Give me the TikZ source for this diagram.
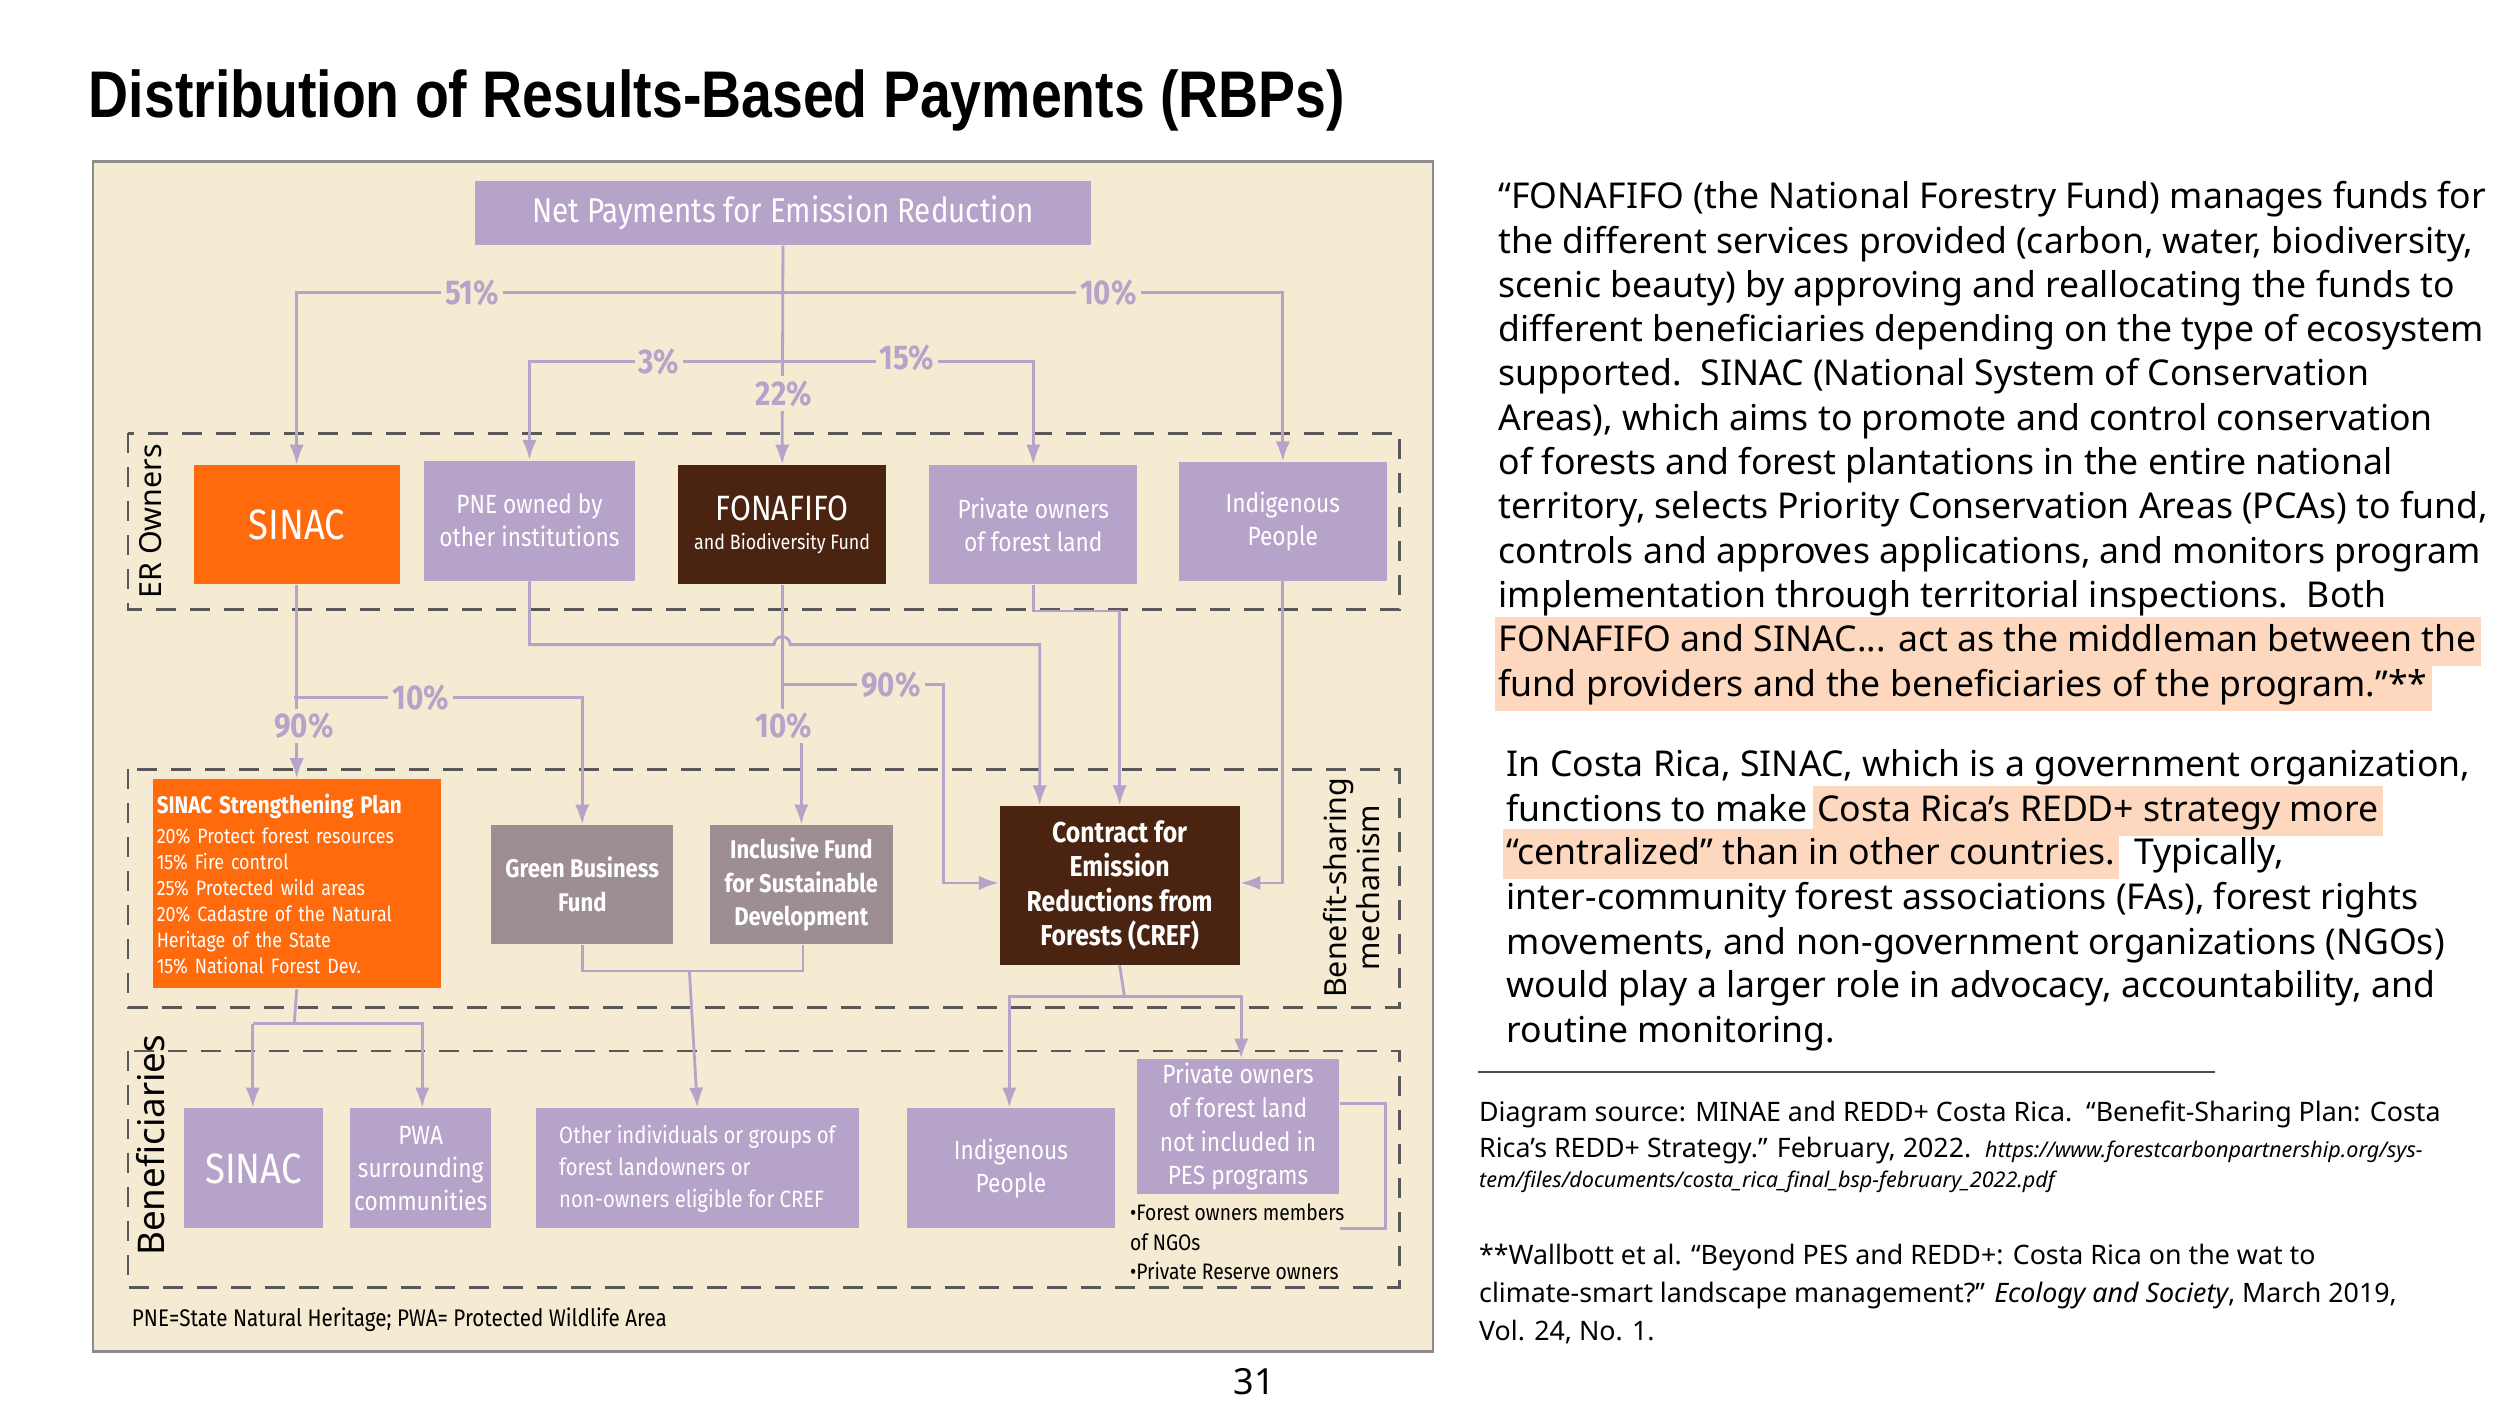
\documentclass[tikz,border=0pt]{standalone}
\usepackage{fontspec}
\setmainfont{Noto Sans}
\newfontfamily\dfont{Fira Sans}[FakeStretch=0.86]
\newfontfamily\tfont{Liberation Sans}[FakeStretch=0.84]
\usetikzlibrary{arrows.meta,positioning,calc}
\definecolor{lav}{HTML}{B5A3C9}
\definecolor{org}{HTML}{FF6A0C}
\definecolor{brn}{HTML}{4A2410}
\definecolor{gry}{HTML}{9D8E93}
\definecolor{bge}{HTML}{F5EAD2}
\definecolor{peach}{HTML}{FDD8BE}
\tikzset{
  box/.style={fill=lav, text=white, align=center, inner sep=1pt, font=\dfont\fontsize{6.6}{8.2}\selectfont},
  obox/.style={box, fill=org},
  bbox/.style={box, fill=brn},
  gbox/.style={box, fill=gry, font=\dfont\bfseries\fontsize{6.4}{8.4}\selectfont},
  line/.style={draw=lav, line width=0.7pt},
  arr/.style={line, -{Latex[length=5pt,width=3.6pt]}},
  pct/.style={fill=bge, text=lav, inner sep=1pt, font=\dfont\bfseries\fontsize{8.6}{9}\selectfont},
  zone/.style={draw=black!65, dash pattern=on 5pt off 3.5pt, line width=0.6pt},
  side/.style={rotate=90, font=\fontsize{7.6}{8.4}\selectfont, align=center},
  rtext/.style={anchor=west, inner xsep=1pt, inner ysep=1.2pt, text height=0.76em, text depth=0.24em, font=\fontsize{8.9}{10}\selectfont},
  hl/.style={fill=peach},
  stext/.style={anchor=west, inner sep=0.5pt, font=\fontsize{6.7}{8}\selectfont}
}
\newcommand\bx[7]{\node[#6, minimum width={(#4-#2)*0.4pt}, minimum height={(#5-#3)*0.4pt}] (#1) at ({(#2+#4)/2},{(#3+#5)/2}) {#7};}
\begin{document}
\begin{tikzpicture}[x=0.4pt,y=-0.4pt]
    \useasboundingbox[fill=white] (0,0) rectangle (1563,879);
    \node[anchor=west, inner sep=0, font=\tfont\bfseries\fontsize{16.5}{18}\selectfont] (title) at (55,63) {Distribution of Results-Based Payments (RBPs)};
    \draw[fill=bge, draw=black!45, line width=0.6pt] (58,101) rectangle (896,845);
    \draw[zone] (80,271) rectangle (875,381);
    \draw[zone] (80,481) rectangle (875,630);
    \draw[zone] (80,657) rectangle (875,805);
    \node[side] (erl) at (94,326) {ER Owners};
    \node[side] (bsl) at (845,555) {Benefit-sharing\\mechanism};
    \node[side, font=\fontsize{9.2}{10}\selectfont] (bfl) at (94,716) {Beneficiaries};
    \bx{net}{297}{113}{682}{153}{box, font=\dfont\fontsize{8.6}{10}\selectfont}{Net Payments for Emission Reduction}
    \bx{sinac}{121}{291}{250}{365}{obox, font=\dfont\fontsize{10.6}{12}\selectfont}{SINAC}
    \bx{pne}{265}{288}{397}{363}{box}{PNE owned by\\other institutions}
    \bx{fona}{424}{291}{554}{365}{bbox}{{\fontsize{8.8}{10}\selectfont FONAFIFO}\\[-1pt]{\fontsize{5.2}{6}\selectfont and Biodiversity Fund}}
    \bx{priv}{581}{291}{711}{365}{box}{Private owners\\of forest land}
    \bx{indg}{737}{289}{867}{363}{box}{Indigenous\\People}
    \bx{plan}{96}{487}{275}{618}{obox, align=left, anchor=center, text width=70pt, font=\dfont\fontsize{5.2}{6.5}\selectfont}{{\bfseries\fontsize{6}{7.4}\selectfont SINAC Strengthening Plan}\\[1pt]20\% Protect forest resources\\15\% Fire control\\25\% Protected wild areas\\20\% Cadastre of the Natural\\Heritage of the State\\15\% National Forest Dev.}
    \bx{green}{307}{516}{421}{590}{gbox}{Green Business\\Fund}
    \bx{incl}{444}{516}{558}{590}{gbox}{Inclusive Fund\\for Sustainable\\Development}
    \bx{cref}{625}{504}{775}{603}{bbox, font=\dfont\bfseries\fontsize{7.2}{8.6}\selectfont}{Contract for\\Emission\\Reductions from\\Forests (CREF)}
    \bx{sinacb}{115}{693}{202}{768}{box, font=\dfont\fontsize{10.6}{12}\selectfont}{SINAC}
    \bx{pwa}{219}{693}{307}{768}{box}{PWA\\surrounding\\communities}
    \bx{other}{335}{693}{537}{768}{box, align=left, font=\dfont\fontsize{5.9}{8}\selectfont}{Other individuals or groups of\\forest landowners or\\non-owners eligible for CREF}
    \bx{indgb}{567}{693}{697}{768}{box}{Indigenous\\People}
    \bx{privb}{711}{663}{837}{746}{box, font=\dfont\fontsize{6.6}{8.4}\selectfont}{Private owners\\of forest land\\not included in\\PES programs}
    \node[anchor=north west, align=left, inner sep=0, font=\dfont\fontsize{5.6}{7.4}\selectfont] (bul) at (706,752) {\textbullet Forest owners members\\of NGOs\\\textbullet Private Reserve owners};
    \coordinate (ja) at (489,183);
    \coordinate (jb) at (489,226);
    \draw[arr] (net.south) -- (fona.north);
    \draw[arr] (ja) -| (sinac.north);
    \draw[arr] (ja) -| (indg.north);
    \draw[arr] (jb) -| (pne.north);
    \draw[arr] (jb) -| (priv.north);
    \node[pct] (p51) at (295,183) {51\%};
    \node[pct] (p10a) at (693,183) {10\%};
    \node[pct] (p3) at (412,226) {3\%};
    \node[pct] (p15) at (567,224) {15\%};
    \node[pct] (p22) at (490,246) {22\%};
    \coordinate (jc) at (184,436);
    \draw[arr] (sinac.south) -- (plan.north);
    \draw[arr] (jc) -| (green.north);
    \node[pct] (p10b) at (263,436) {10\%};
    \node[pct] (p90a) at (190,454) {90\%};
    \draw[arr] (fona.south) -- (489,462) -| (incl.north);
    \draw[arr] (489,428) -| (590,552) -- (cref.west |- 0,552);
    \node[pct] (p90b) at (557,428) {90\%};
    \node[pct] (p10c) at (490,454) {10\%};
    \draw[arr] (pne.south) |- (484,403) arc[start angle=180, end angle=360, radius=5] -- (650,403) -- (cref.north -| 650,0);
    \draw[arr] (priv.south) |- (700,382) -- (cref.north -| 700,0);
    \draw[arr] (indg.south) |- (cref.east |- 0,552);
    \draw[line] (plan.south) -- (184,640);
    \draw[arr] (158,640) -- (sinacb.north -| 158,0);
    \draw[arr] (158,640) -| (pwa.north -| 264,0);
    \draw[line] (green.south) |- (502,607) -- (incl.south -| 502,0);
    \draw[arr] (431,607) -- (other.north);
    \draw[line] (cref.south) -- (703,623);
    \draw[arr] (703,623) -| (indgb.north -| 631,0);
    \draw[arr] (703,623) -| (privb.north -| 776,0);
    \draw[line] (privb.east |- 0,690) -| (866,768) -- (838,768);
    \node[anchor=west, inner sep=0, font=\dfont\fontsize{6}{7}\selectfont] (foot) at (82,825) {PNE=State Natural Heritage; PWA= Protected Wildlife Area};
    \node[font=\fontsize{9}{10}\selectfont] (page) at (784,864) {31};
    \foreach \t [count=\i] in {{“FONAFIFO (the National Forestry Fund) manages funds for},{the different services provided (carbon, water, biodiversity,},{scenic beauty) by approving and reallocating the funds to},{different beneficiaries depending on the type of ecosystem},{supported.\ \ SINAC (National System of Conservation},{Areas), which aims to promote and control conservation},{of forests and forest plantations in the entire national},{territory, selects Priority Conservation Areas (PCAs) to fund,},{controls and approves applications, and monitors program},{implementation through territorial inspections.\ \ Both}}
      \node[rtext] (q\i) at (934,{124+27.7*(\i-1)}) {\t};
    \node[rtext, hl] (q11) at (934,401) {FONAFIFO and SINAC... act as the middleman between the};
    \node[rtext, hl] (q12) at (934,429) {fund providers and the beneficiaries of the program.”**};
    \node[rtext] (r1) at (939,479) {In Costa Rica, SINAC, which is a government organization,};
    \node[rtext] (r2) at (939,507) {functions to make};
    \node[rtext, hl] (r2h) at (r2.east) {Costa Rica’s REDD+ strategy more};
    \node[rtext, hl] (r3h) at (939,534) {“centralized” than in other countries.};
    \node[rtext] (r3) at (r3h.east) {\ Typically,};
    \node[rtext] (r4) at (939,562) {inter-community forest associations (FAs), forest rights};
    \node[rtext] (r5) at (939,590) {movements, and non-government organizations (NGOs)};
    \node[rtext] (r6) at (939,617) {would play a larger role in advocacy, accountability, and};
    \node[rtext] (r7) at (939,645) {routine monitoring.};
    \draw[black!70, line width=0.5pt] (924,670) -- (1385,670);
    \node[stext] (s1) at (923,697) {Diagram source: MINAE and REDD+ Costa Rica.\ \ “Benefit-Sharing Plan: Costa};
    \node[stext] (s2) at (923,719) {Rica’s REDD+ Strategy.” February, 2022.\ \ {\itshape\fontsize{5.4}{6}\selectfont https://www.forestcarbonpartnership.org/sys-}};
    \node[stext, font=\itshape\fontsize{5.4}{6}\selectfont] (s3) at (923,739) {tem/files/documents/costa\_rica\_final\_bsp-february\_2022.pdf};
    \node[stext] (w1) at (923,786) {**Wallbott et al. “Beyond PES and REDD+: Costa Rica on the wat to};
    \node[stext] (w2) at (923,810) {climate-smart landscape management?” \textit{Ecology and Society}, March 2019,};
    \node[stext] (w3) at (923,833) {Vol. 24, No. 1.};
\end{tikzpicture}
\end{document}
